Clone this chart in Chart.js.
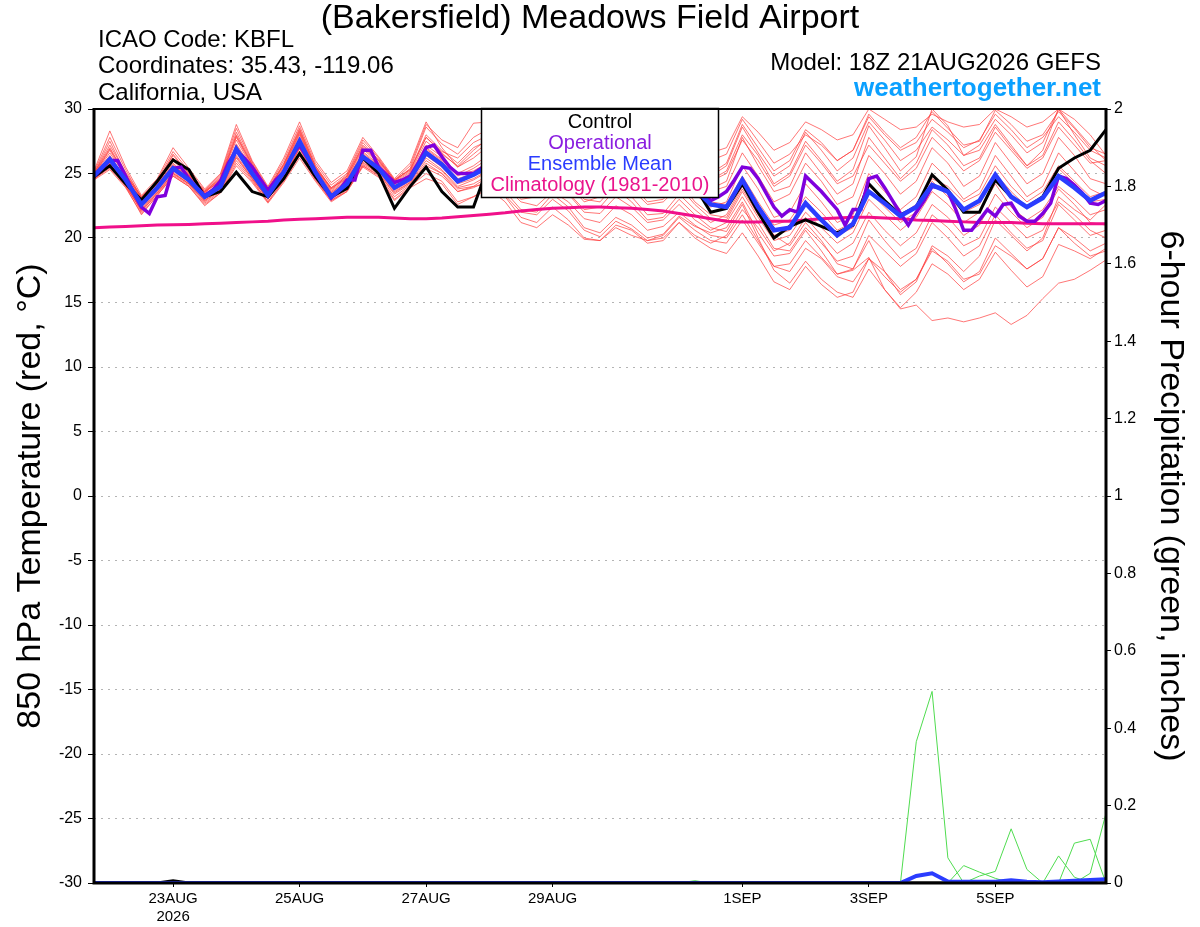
<!DOCTYPE html>
<html>
<head>
<meta charset="utf-8">
<script src="https://cdn.jsdelivr.net/npm/chart.js@4.4.1/dist/chart.umd.min.js"></script>
<style>
html, body { margin: 0; padding: 0; background: #fff; }
canvas { display: block; }
</style>
</head>
<body>
<canvas id="grafico" width="1200" height="927"></canvas>
<script>
// hours after 18Z 21AUG2026; members every 6 h, operational every 3 h
const stepHours = 6
const opStepHours = 3
const dateTicks = [30, 78, 126, 174, 246, 294, 342]
const dateLabels = [['23AUG', '2026'], '25AUG', '27AUG', '29AUG', '1SEP', '3SEP', '5SEP']

const control = [24.75, 25.6, 24.2, 22.95, 24.4, 26.05, 25.3, 23.2, 23.6, 25.1, 23.6, 23.2, 24.6, 26.55, 24.75, 23.2, 23.85, 26.2, 25.0, 22.3, 24.0, 25.5, 23.6, 22.4, 22.4,
  25.8, 25.0, 24.0, 24.5, 26.3, 25.5, 24.3, 24.8, 26.5, 25.6, 24.2, 24.4, 25.8, 24.0,
  22.0, 22.3, 24.2, 22.0, 20.0, 20.9, 21.4, 20.9, 20.4, 21.0, 24.2, 22.9, 21.8, 22.4, 24.9, 23.7, 22.0, 22.0, 24.5, 23.2, 22.4, 23.2, 25.4, 26.2, 26.8, 28.4]

const ensMean = [24.8, 26.1, 24.5, 22.6, 23.9, 25.4, 24.5, 23.2, 24.0, 26.9, 25.0, 23.3, 25.1, 27.5, 25.1, 23.2, 24.2, 26.3, 25.4, 23.9, 24.6, 26.6, 25.7, 24.4, 24.9,
  25.6, 25.0, 24.3, 24.8, 25.9, 25.3, 24.3, 24.6, 25.8, 25.2, 24.1, 24.2, 25.2, 23.8,
  22.6, 22.4, 24.5, 22.4, 20.6, 20.8, 22.7, 21.4, 20.2, 21.1, 23.6, 22.7, 21.7, 22.4, 24.1, 23.6, 22.2, 22.9, 24.9, 23.2, 22.4, 23.1, 24.8, 23.9, 22.9, 23.5]

const operational = [24.8, 25.4, 26.0, 26.0, 24.8, 23.5, 22.4, 21.9, 23.2, 23.3,
  25.4, 25.5, 24.6, 23.9, 23.3, 23.7, 24.4, 25.8, 26.8, 26.2,
  25.5, 24.6, 23.7, 24.5, 25.1, 26.3, 27.2, 26.2, 25.1, 24.1,
  23.1, 23.7, 24.5, 24.5, 26.8, 26.8, 25.5, 24.9, 24.3, 24.5,
  24.8, 25.8, 27.0, 27.2, 26.3, 25.5, 25.0, 25.0, 25.0, 25.4,
  26.0, 25.8, 25.2, 24.8, 24.4, 24.6, 25.0, 25.8, 26.5, 26.0,
  25.3, 24.7, 24.3, 24.5, 25.0, 25.9, 26.4, 25.9, 25.2, 24.6,
  24.1, 24.3, 24.8, 25.4, 25.8, 25.2, 24.3, 23.5,
  22.9, 23.2, 23.6, 24.5, 25.5, 25.4, 24.6, 23.5, 22.4, 21.7,
  22.2, 22.0, 24.8, 24.2, 23.6, 22.9, 22.2, 21.0, 22.2, 22.2,
  24.6, 24.8, 23.9, 22.9, 21.9, 21.0, 22.0, 22.9, 24.0, 23.9,
  23.6, 22.2, 20.6, 20.6, 21.4, 22.2, 21.7, 22.6, 22.7, 21.7,
  21.3, 21.3, 21.9, 22.7, 24.8, 24.6, 24.1, 23.5, 22.7, 22.6,
  22.9]

const climatology = [20.8, 20.85, 20.9, 20.95, 21.0, 21.02, 21.05, 21.1, 21.15, 21.2,
  21.25, 21.3, 21.4, 21.45, 21.5, 21.55, 21.6, 21.6, 21.6, 21.55,
  21.5, 21.5, 21.55, 21.65, 21.75, 21.85, 21.95, 22.1, 22.2, 22.3,
  22.35, 22.4, 22.4, 22.35, 22.3, 22.2, 22.1, 21.9, 21.7, 21.5,
  21.3, 21.25, 21.25, 21.3, 21.3, 21.4, 21.5, 21.55, 21.6, 21.6,
  21.55, 21.5, 21.4, 21.35, 21.3, 21.25, 21.2, 21.2, 21.2, 21.15,
  21.1, 21.1, 21.1, 21.1, 21.1]

const m01 = [25.0, 27.5, 25.0, 23.0, 24.3, 26.5, 25.0, 23.6, 24.8, 28.2, 25.8, 23.8, 25.8, 28.5, 25.6, 23.9, 24.9, 27.4, 26.0, 24.4, 25.4, 28.6, 27.3, 26.5, 27.8, 28.5, 27.8, 26.5, 27.0, 28.8, 28.0, 26.8, 27.0, 28.5, 27.5, 26.0, 26.4, 27.8, 26.8, 26.0, 26.5, 29.2, 27.5, 25.8, 26.5, 28.0, 27.2, 26.0, 26.8, 29.6, 28.2, 27.0, 27.8, 29.8, 28.5, 27.2, 27.5, 29.9, 28.8, 27.5, 28.0, 29.8, 28.5, 27.0, 26.5]
const m02 = [24.6, 25.5, 24.2, 22.0, 23.5, 25.0, 24.2, 22.8, 23.7, 26.2, 24.6, 23.0, 24.6, 27.0, 24.8, 23.0, 23.8, 25.9, 25.0, 23.4, 24.2, 25.8, 25.0, 23.8, 24.0, 24.8, 24.0, 22.8, 22.5, 23.6, 22.8, 21.5, 21.2, 22.5, 21.8, 20.6, 20.9, 22.0, 21.0, 20.2, 20.0, 21.8, 19.8, 17.8, 18.0, 19.8, 18.5, 17.2, 17.5, 18.5, 16.0, 14.5, 14.8, 13.6, 13.8, 13.5, 13.8, 14.2, 13.3, 14.0, 15.3, 16.5, 16.8, 17.5, 18.3]
const m03 = [24.7, 26.0, 24.4, 22.3, 23.7, 25.2, 24.3, 23.0, 23.9, 26.6, 24.8, 23.1, 24.9, 27.3, 25.0, 23.1, 24.0, 26.0, 25.2, 23.7, 24.4, 26.2, 25.3, 24.0, 24.5, 25.2, 24.6, 23.4, 23.8, 24.6, 23.5, 22.2, 22.4, 23.8, 22.8, 21.4, 21.6, 23.0, 21.8, 20.8, 20.5, 22.6, 20.0, 17.5, 16.5, 18.2, 16.8, 15.8, 15.4, 17.6, 16.0, 14.6, 15.8, 18.0, 17.2, 16.0, 16.8, 18.9, 17.5, 16.2, 17.0, 19.5, 19.0, 18.4, 19.2]
const m04 = [25.2, 28.3, 25.5, 23.3, 24.6, 27.0, 25.4, 23.8, 25.0, 28.8, 26.0, 24.0, 26.2, 29.0, 26.0, 24.3, 25.2, 27.8, 26.3, 24.6, 25.8, 29.0, 27.0, 25.5, 26.5, 27.5, 26.6, 25.3, 25.8, 27.8, 27.0, 25.6, 25.9, 27.9, 26.9, 25.2, 25.4, 27.3, 25.8, 24.5, 25.2, 28.0, 26.4, 24.2, 25.0, 27.5, 26.0, 24.4, 25.3, 28.7, 27.0, 25.2, 26.3, 30.0, 28.7, 26.4, 26.8, 28.8, 27.2, 25.6, 26.8, 30.0, 28.0, 26.2, 25.6]
const m05 = [24.8, 26.0, 24.3, 22.4, 23.8, 25.3, 24.4, 23.1, 23.8, 26.8, 24.9, 23.2, 25.0, 27.4, 25.0, 23.3, 24.1, 26.2, 25.3, 23.8, 24.5, 26.4, 25.5, 24.2, 24.6, 25.3, 24.5, 23.6, 24.0, 25.0, 24.2, 22.8, 23.2, 24.6, 23.8, 22.6, 22.8, 24.0, 22.6, 21.5, 21.4, 23.6, 21.6, 19.8, 20.2, 22.0, 20.8, 19.6, 20.4, 23.0, 21.8, 20.6, 21.6, 23.6, 22.6, 21.2, 22.0, 24.2, 22.4, 21.4, 22.2, 24.0, 23.0, 21.8, 22.2]
const m06 = [24.6, 25.7, 24.1, 22.1, 23.4, 24.9, 24.1, 22.7, 23.6, 26.0, 24.5, 22.8, 24.5, 26.6, 24.6, 22.9, 23.7, 25.6, 24.9, 23.2, 24.1, 25.4, 24.8, 23.6, 23.9, 24.5, 23.6, 22.2, 22.0, 23.4, 22.4, 20.8, 20.4, 21.6, 21.0, 20.0, 20.3, 21.7, 20.9, 20.4, 20.8, 22.8, 20.4, 18.6, 18.8, 20.6, 19.0, 17.2, 17.6, 20.2, 19.0, 17.8, 18.8, 21.2, 20.0, 18.6, 19.4, 21.8, 20.4, 19.2, 19.8, 22.6, 21.4, 20.2, 20.6]
const m07 = [24.9, 26.6, 24.8, 22.8, 24.1, 25.8, 24.7, 23.4, 24.3, 27.3, 25.4, 23.5, 25.4, 28.0, 25.3, 23.5, 24.5, 26.7, 25.7, 24.2, 25.0, 27.2, 26.3, 25.0, 25.6, 26.5, 25.8, 24.8, 25.3, 26.8, 26.0, 24.8, 25.1, 26.6, 25.8, 24.4, 24.6, 26.2, 24.8, 23.6, 24.0, 26.6, 24.8, 22.8, 23.4, 25.8, 24.4, 22.6, 23.2, 26.4, 25.0, 23.4, 24.4, 27.0, 25.8, 24.0, 24.8, 27.4, 25.8, 24.2, 25.0, 27.8, 26.4, 24.6, 24.2]
const m08 = [24.7, 25.9, 24.6, 22.5, 24.0, 25.6, 24.6, 23.3, 24.1, 27.0, 25.2, 23.4, 25.2, 27.7, 25.2, 23.4, 24.3, 26.5, 25.5, 24.0, 24.7, 26.8, 25.9, 24.6, 25.0, 25.8, 25.0, 23.9, 24.2, 25.6, 24.6, 23.0, 22.8, 24.2, 23.2, 21.8, 21.9, 23.4, 22.2, 21.2, 21.8, 24.0, 22.2, 20.2, 19.4, 21.2, 19.8, 18.0, 17.6, 19.8, 17.4, 15.6, 16.6, 19.4, 18.6, 17.4, 18.6, 21.4, 20.2, 19.0, 20.0, 23.2, 22.2, 21.4, 22.6]
const m09 = [25.0, 27.0, 24.9, 23.2, 24.4, 26.2, 24.9, 23.6, 24.6, 27.9, 25.7, 23.7, 25.7, 28.3, 25.5, 23.8, 24.8, 27.1, 26.0, 24.5, 25.3, 27.8, 26.6, 25.5, 26.2, 27.2, 26.4, 25.2, 25.6, 27.4, 26.6, 25.0, 25.4, 27.2, 26.4, 24.8, 25.2, 27.0, 25.6, 24.8, 25.6, 28.6, 26.6, 24.8, 25.6, 28.2, 26.8, 25.2, 26.2, 29.0, 27.6, 26.0, 26.8, 28.6, 27.6, 26.4, 27.2, 29.2, 28.0, 26.6, 27.4, 30.0, 28.6, 27.2, 26.0]
const m10 = [24.8, 26.3, 24.7, 23.0, 24.2, 25.6, 24.8, 23.6, 24.4, 27.0, 25.3, 23.8, 25.3, 27.6, 25.4, 23.9, 24.6, 26.4, 25.6, 24.3, 24.8, 26.9, 26.0, 24.9, 25.2, 25.9, 25.3, 24.6, 25.0, 26.1, 25.5, 24.5, 24.8, 26.0, 25.3, 24.0, 24.2, 25.3, 23.9, 22.8, 22.6, 24.8, 22.8, 21.0, 21.4, 23.2, 22.0, 20.6, 21.2, 24.0, 23.0, 21.8, 22.6, 24.6, 24.0, 22.8, 23.4, 25.6, 24.0, 22.8, 23.6, 25.6, 24.4, 23.2, 23.6]
const m11 = [24.5, 25.6, 24.0, 21.8, 23.3, 24.8, 24.0, 22.5, 23.5, 25.6, 24.3, 22.7, 24.3, 26.2, 24.4, 22.8, 23.6, 25.5, 24.7, 22.9, 23.9, 24.6, 24.2, 22.6, 23.2, 24.0, 23.3, 22.0, 21.8, 23.0, 22.1, 20.6, 20.1, 21.3, 20.7, 19.8, 20.2, 21.6, 20.6, 19.8, 19.6, 21.4, 19.6, 17.8, 17.4, 19.2, 18.4, 17.0, 16.6, 18.4, 17.4, 16.0, 16.8, 19.0, 18.2, 16.8, 17.2, 19.4, 18.6, 17.6, 18.4, 20.8, 20.0, 19.0, 19.6]
const m12 = [24.9, 26.8, 24.8, 22.9, 24.2, 26.0, 24.8, 23.5, 24.5, 27.6, 25.5, 23.6, 25.5, 28.2, 25.4, 23.6, 24.6, 26.9, 25.8, 24.3, 25.1, 27.5, 26.5, 25.6, 26.8, 27.8, 27.0, 25.8, 26.2, 27.5, 26.5, 25.2, 25.4, 26.8, 25.9, 24.6, 24.9, 26.8, 25.0, 23.8, 24.4, 27.8, 25.6, 23.6, 24.0, 26.6, 25.0, 23.4, 24.2, 27.8, 26.2, 24.6, 25.8, 28.4, 27.2, 25.6, 26.2, 28.6, 27.0, 25.6, 26.4, 29.0, 27.6, 26.0, 25.0]
const m13 = [24.6, 25.4, 24.0, 22.2, 23.5, 25.0, 24.2, 22.9, 23.7, 26.3, 24.6, 23.0, 24.7, 26.9, 24.8, 23.1, 23.9, 25.7, 25.0, 23.5, 24.3, 25.6, 25.0, 23.6, 24.0, 24.2, 23.2, 21.6, 21.2, 22.4, 21.4, 20.0, 19.8, 21.0, 20.6, 19.6, 19.8, 21.2, 20.2, 19.6, 20.2, 22.2, 20.8, 19.0, 19.6, 21.6, 20.2, 18.8, 19.6, 22.0, 20.6, 19.4, 20.4, 22.6, 21.6, 20.2, 21.0, 23.4, 22.0, 20.8, 21.6, 23.8, 22.6, 21.2, 21.0]
const m14 = [24.8, 26.4, 24.6, 22.7, 24.0, 25.7, 24.6, 23.4, 24.2, 27.2, 25.2, 23.4, 25.3, 27.8, 25.2, 23.5, 24.4, 26.6, 25.6, 24.1, 24.9, 27.0, 26.1, 24.8, 25.4, 26.2, 25.4, 24.2, 24.6, 25.8, 25.0, 23.8, 24.0, 25.4, 24.6, 23.2, 23.4, 24.8, 23.4, 22.4, 22.8, 25.6, 23.8, 21.6, 22.0, 24.2, 22.8, 21.2, 21.8, 25.0, 23.6, 22.2, 23.2, 25.8, 24.6, 23.0, 23.8, 26.4, 24.8, 23.2, 24.0, 26.6, 25.2, 23.8, 23.2]
const m15 = [25.1, 27.8, 25.3, 23.1, 24.5, 26.7, 25.2, 23.7, 24.9, 28.5, 25.9, 23.9, 26.0, 28.7, 25.8, 24.1, 25.0, 27.6, 26.2, 24.5, 25.6, 28.8, 27.6, 27.0, 28.9, 29.0, 28.4, 27.2, 27.6, 29.2, 28.4, 27.0, 27.2, 28.8, 27.8, 26.4, 26.8, 28.4, 27.2, 26.6, 27.0, 29.4, 28.2, 26.8, 27.4, 29.0, 28.4, 27.6, 28.0, 30.0, 29.2, 28.4, 28.6, 29.6, 29.0, 28.6, 28.8, 30.0, 29.4, 28.6, 29.0, 30.0, 29.2, 28.0, 26.4]
const m16 = [24.6, 25.8, 24.2, 22.2, 23.6, 25.1, 24.2, 22.9, 23.8, 26.4, 24.7, 23.0, 24.8, 27.0, 24.9, 23.2, 24.0, 25.8, 25.1, 23.6, 24.3, 26.0, 25.2, 23.9, 24.2, 24.9, 24.2, 23.0, 23.2, 24.4, 23.4, 22.0, 21.9, 23.2, 22.4, 21.2, 21.4, 22.6, 21.4, 20.6, 21.2, 23.2, 21.2, 19.2, 19.0, 20.8, 19.6, 18.2, 18.6, 21.4, 19.8, 18.4, 19.2, 21.8, 20.8, 19.4, 20.0, 22.4, 21.2, 20.0, 20.6, 22.8, 21.8, 20.6, 20.0]
const m17 = [24.7, 26.2, 24.5, 22.6, 23.9, 25.5, 24.5, 23.2, 24.0, 26.9, 25.0, 23.3, 25.1, 27.5, 25.1, 23.3, 24.2, 26.3, 25.4, 23.9, 24.6, 26.6, 25.7, 24.4, 24.8, 25.6, 24.9, 23.8, 24.2, 25.4, 24.6, 23.4, 23.6, 25.0, 24.2, 22.8, 23.0, 24.4, 22.8, 21.8, 21.6, 23.8, 21.8, 20.2, 20.6, 22.8, 21.6, 20.2, 20.8, 23.6, 22.4, 21.2, 22.0, 24.4, 23.2, 22.0, 22.6, 25.0, 23.6, 22.4, 23.2, 25.4, 24.2, 22.8, 23.0]
const m18 = [25.0, 27.2, 25.1, 23.2, 24.4, 26.4, 25.0, 23.6, 24.7, 28.0, 25.7, 23.8, 25.7, 28.4, 25.6, 23.8, 24.8, 27.2, 26.1, 24.5, 25.3, 28.0, 26.8, 25.8, 27.0, 27.6, 26.8, 25.6, 26.0, 27.6, 26.8, 25.4, 25.6, 27.4, 26.4, 25.0, 25.2, 26.8, 25.4, 24.4, 25.0, 27.6, 26.0, 24.0, 24.8, 27.2, 25.8, 24.2, 24.8, 27.2, 25.8, 24.4, 25.4, 27.8, 26.6, 25.2, 26.0, 28.2, 26.8, 25.4, 26.2, 28.6, 27.2, 25.8, 26.0]
const m19 = [24.5, 25.3, 23.9, 21.9, 23.3, 24.8, 24.0, 22.6, 23.5, 25.8, 24.4, 22.8, 24.4, 26.4, 24.5, 22.9, 23.6, 25.6, 24.8, 23.0, 24.0, 25.0, 24.4, 22.8, 23.2, 23.8, 22.8, 21.2, 20.8, 21.8, 21.0, 19.9, 19.8, 20.8, 20.2, 19.8, 20.0, 21.2, 20.0, 19.2, 18.8, 20.4, 18.6, 16.6, 16.0, 17.8, 16.4, 15.4, 15.8, 18.4, 17.0, 15.8, 16.8, 19.2, 18.0, 16.6, 17.4, 20.0, 18.8, 17.6, 18.4, 20.8, 19.6, 18.6, 19.0]
const m20 = [24.9, 26.9, 24.9, 23.1, 24.3, 26.2, 24.9, 23.5, 24.6, 27.8, 25.6, 23.7, 25.6, 28.1, 25.4, 23.7, 24.7, 27.0, 25.9, 24.4, 25.2, 27.8, 26.7, 26.2, 27.4, 28.0, 27.2, 26.0, 26.4, 28.2, 27.4, 26.0, 26.2, 27.8, 27.0, 25.6, 25.8, 27.4, 26.0, 25.0, 25.8, 28.8, 27.0, 25.2, 26.0, 28.4, 27.4, 26.0, 26.8, 29.4, 28.0, 26.8, 27.4, 29.2, 28.2, 27.0, 27.6, 29.6, 28.4, 27.0, 27.8, 29.4, 28.2, 26.8, 26.2]
const members = [m01, m02, m03, m04, m05, m06, m07, m08, m09, m10, m11, m12, m13, m14, m15, m16, m17, m18, m19, m20]

// 6-hour precipitation (inches)
const precipMean = [0, 0, 0, 0, 0, 0, 0, 0, 0, 0, 0, 0, 0, 0, 0, 0, 0, 0, 0, 0, 0, 0, 0, 0, 0, 0, 0, 0, 0, 0, 0, 0, 0, 0, 0, 0, 0, 0, 0, 0, 0, 0, 0, 0, 0, 0, 0, 0, 0, 0, 0, 0, 0.018, 0.025, 0.004, 0.003, 0.003, 0.003, 0.007, 0.003, 0.002, 0.004, 0.006, 0.008, 0.01]
const precipControl = [0, 0, 0, 0, 0, 0.006, 0, 0, 0, 0, 0, 0, 0, 0, 0, 0, 0, 0, 0, 0, 0, 0, 0, 0, 0, 0, 0, 0, 0, 0, 0, 0, 0, 0, 0, 0, 0, 0, 0, 0, 0, 0, 0, 0, 0, 0, 0, 0, 0, 0, 0, 0, 0, 0, 0, 0, 0, 0, 0, 0, 0, 0, 0, 0, 0]
const p01 = [0, 0, 0, 0, 0, 0, 0, 0, 0, 0, 0, 0, 0, 0, 0, 0, 0, 0, 0, 0, 0, 0, 0, 0, 0, 0, 0, 0, 0, 0, 0, 0, 0, 0, 0, 0, 0, 0, 0, 0, 0, 0, 0, 0, 0, 0, 0, 0, 0, 0, 0, 0, 0.365, 0.495, 0.065, 0, 0, 0, 0, 0, 0, 0, 0, 0, 0]
const p02 = [0, 0, 0, 0, 0, 0, 0, 0, 0, 0, 0, 0, 0, 0, 0, 0, 0, 0, 0, 0, 0, 0, 0, 0, 0, 0, 0, 0, 0, 0, 0, 0, 0, 0, 0, 0, 0, 0, 0, 0, 0, 0, 0, 0, 0, 0, 0, 0, 0, 0, 0, 0, 0, 0, 0, 0.045, 0.028, 0.012, 0, 0, 0, 0, 0, 0, 0]
const p03 = [0, 0, 0, 0, 0, 0, 0, 0, 0, 0, 0, 0, 0, 0, 0, 0, 0, 0, 0, 0, 0, 0, 0, 0, 0, 0, 0, 0, 0, 0, 0, 0, 0, 0, 0, 0, 0, 0, 0, 0, 0, 0, 0, 0, 0, 0, 0, 0, 0, 0, 0, 0, 0, 0, 0, 0, 0.018, 0.03, 0.14, 0.035, 0, 0, 0, 0, 0]
const p04 = [0, 0, 0, 0, 0, 0, 0, 0, 0, 0, 0, 0, 0, 0, 0, 0, 0, 0, 0, 0, 0, 0, 0, 0, 0, 0, 0, 0, 0, 0, 0, 0, 0, 0, 0, 0, 0, 0, 0, 0, 0, 0, 0, 0, 0, 0, 0, 0, 0, 0, 0, 0, 0, 0, 0, 0, 0, 0, 0, 0, 0, 0.07, 0.015, 0, 0]
const p05 = [0, 0, 0, 0, 0, 0, 0, 0, 0, 0, 0, 0, 0, 0, 0, 0, 0, 0, 0, 0, 0, 0, 0, 0, 0, 0, 0, 0, 0, 0, 0, 0, 0, 0, 0, 0, 0, 0, 0, 0, 0, 0, 0, 0, 0, 0, 0, 0, 0, 0, 0, 0, 0, 0, 0, 0, 0, 0, 0, 0, 0, 0, 0.103, 0.113, 0]
const p06 = [0, 0, 0, 0, 0, 0, 0, 0, 0, 0, 0, 0, 0, 0, 0, 0, 0, 0, 0, 0, 0, 0, 0, 0, 0, 0, 0, 0, 0, 0, 0, 0, 0, 0, 0, 0, 0, 0, 0.006, 0, 0, 0, 0, 0, 0, 0, 0, 0, 0, 0, 0, 0, 0, 0, 0, 0, 0, 0, 0, 0, 0, 0, 0, 0.025, 0.18]
const precipMembers = [p01, p02, p03, p04, p05, p06]

const fontFamily = '"Liberation Sans", Arial, Helvetica, sans-serif'
const toPoints = (vals, step) => vals.map((v, i) => ({ x: i * step, y: v }))

const line = (data, color, width, axis, order) => ({
    data: data,
    borderColor: color,
    borderWidth: width,
    yAxisID: axis,
    order: order,
    pointRadius: 0,
    tension: 0,
    fill: false
})

const datasets = [
    line(toPoints(ensMean, stepHours), '#2a3cff', 4.5, 'y', 1),
    line(toPoints(operational, opStepHours), '#7f00dd', 3.5, 'y', 2),
    line(toPoints(control, stepHours), '#000000', 3, 'y', 3),
    line(toPoints(climatology, stepHours), '#f0108a', 3, 'y', 4),
    line(toPoints(precipMean, stepHours), '#2a3cff', 4, 'y2', 5),
    line(toPoints(precipControl, stepHours), '#000000', 3, 'y2', 6)
]
precipMembers.forEach(p => datasets.push(line(toPoints(p, stepHours), '#4fdc4f', 1, 'y2', 7)))
members.forEach(m => datasets.push(line(toPoints(m, stepHours), 'rgba(255, 60, 60, 0.7)', 1, 'y', 8)))

const overlay = {
    id: 'overlay',
    afterDatasetsDraw(chart) {
        const c = chart.ctx
        const a = chart.chartArea
        c.save()
        // legend box over the lines
        c.fillStyle = '#fff'
        c.fillRect(481, 108, 238, 90)
        c.strokeStyle = '#000'
        c.lineWidth = 1.5
        c.strokeRect(481.5, 108.5, 237, 89)
        c.font = '20px ' + fontFamily
        c.textAlign = 'center'
        c.textBaseline = 'middle'
        const rows = [['Control', '#000'], ['Operational', '#8a1ee0'], ['Ensemble Mean', '#2a3cff'], ['Climatology (1981-2010)', '#ea148c']]
        rows.forEach((r, i) => {
            c.fillStyle = r[1]
            c.fillText(r[0], 600, 122 + i * 21.3)
        })
        // frame
        c.strokeStyle = '#000'
        c.lineWidth = 2
        c.beginPath()
        c.moveTo(a.left, a.top)
        c.lineTo(a.right, a.top)
        c.stroke()
        c.lineWidth = 3
        c.beginPath()
        c.moveTo(a.left, a.top - 1)
        c.lineTo(a.left, a.bottom)
        c.lineTo(a.right, a.bottom)
        c.lineTo(a.right, a.top - 1)
        c.stroke()
        c.restore()
    },
    afterDraw(chart) {
        const c = chart.ctx
        c.save()
        c.fillStyle = '#000'
        c.textBaseline = 'middle'
        c.textAlign = 'center'
        c.font = '34px ' + fontFamily
        c.fillText('(Bakersfield) Meadows Field Airport', 590, 19)
        c.textAlign = 'left'
        c.font = '24px ' + fontFamily
        c.fillText('ICAO Code: KBFL', 98, 40)
        c.fillText('Coordinates: 35.43, -119.06', 98, 66)
        c.fillText('California, USA', 98, 93)
        c.textAlign = 'right'
        c.fillText('Model: 18Z 21AUG2026 GEFS', 1101, 63)
        c.fillStyle = '#0aa0ff'
        c.font = 'bold 26px ' + fontFamily
        c.fillText('weathertogether.net', 1101, 89)
        // axis titles
        c.fillStyle = '#000'
        c.textAlign = 'center'
        c.font = '34px ' + fontFamily
        c.translate(31, 496)
        c.rotate(-Math.PI / 2)
        c.fillText('850 hPa Temperature (red, \u00B0C)', 0, 0)
        c.setTransform(1, 0, 0, 1, 0, 0)
        c.translate(1170, 496)
        c.rotate(Math.PI / 2)
        c.fillText('6-hour Precipitation (green, inches)', 0, 0)
        c.restore()
    }
}

const ctx = document.getElementById('grafico')

new Chart(ctx, {
    type: 'line',
    data: { datasets: datasets },
    options: {
        responsive: false,
        devicePixelRatio: 1,
        animation: false,
        events: [],
        layout: { padding: { top: 109, left: 0, right: 0, bottom: 0 } },
        plugins: {
            legend: { display: false },
            tooltip: { enabled: false }
        },
        scales: {
            x: {
                type: 'linear',
                min: 0,
                max: 384,
                afterBuildTicks: s => { s.ticks = dateTicks.map(v => ({ value: v })) },
                afterFit: s => { s.height = 44 },
                ticks: {
                    autoSkip: false,
                    maxRotation: 0,
                    padding: 3,
                    color: '#000',
                    font: { family: fontFamily, size: 15 },
                    callback: (v, i) => dateLabels[i]
                },
                grid: { drawOnChartArea: false, tickLength: 4, tickColor: '#000' },
                border: { display: false }
            },
            y: {
                position: 'left',
                min: -30,
                max: 30,
                afterFit: s => { s.width = 94 },
                ticks: { stepSize: 5, padding: 6, color: '#000', font: { family: fontFamily, size: 16 } },
                grid: { color: '#b4b4b4', lineWidth: 1, tickLength: 6, tickColor: '#000' },
                border: { display: false, dash: [2, 5] }
            },
            y2: {
                position: 'right',
                min: 0,
                max: 2,
                afterFit: s => { s.width = 94 },
                ticks: {
                    stepSize: 0.2,
                    padding: 3,
                    color: '#000',
                    font: { family: fontFamily, size: 16 },
                    callback: v => String(Math.round(v * 10) / 10)
                },
                grid: { drawOnChartArea: false, tickLength: 5, tickColor: '#000' },
                border: { display: false }
            }
        }
    },
    plugins: [overlay]
})
</script>
</body>
</html>
